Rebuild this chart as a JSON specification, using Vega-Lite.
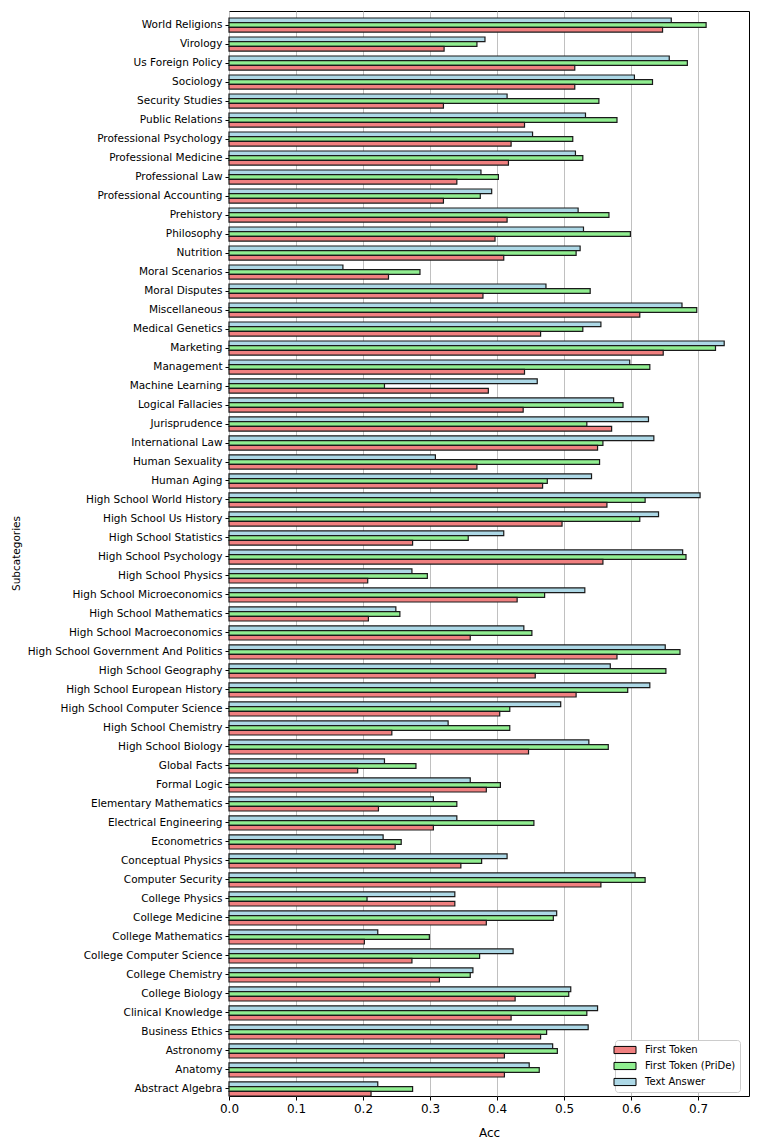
{
  "$schema": "https://vega.github.io/schema/vega-lite/v6.json",
  "width": 520,
  "height": 1085,
  "autosize": "none",
  "padding": {"left": 229, "top": 11, "right": 12, "bottom": 46},
  "background": "white",
  "config": {
    "font": "DejaVu Sans",
    "view": {"stroke": "black", "strokeWidth": 1},
    "axis": {"labelFont": "DejaVu Sans", "titleFont": "DejaVu Sans", "titleFontWeight": "normal", "labelColor": "black", "titleColor": "black", "tickColor": "black", "domainColor": "black", "tickSize": 4, "labelPadding": 3},
    "legend": {"labelFont": "DejaVu Sans"}
  },
  "data": {
    "values": [
      {"subject": "World Religions", "method": "Text Answer", "acc": 0.660},
      {"subject": "World Religions", "method": "First Token (PriDe)", "acc": 0.712},
      {"subject": "World Religions", "method": "First Token", "acc": 0.647},
      {"subject": "Virology", "method": "Text Answer", "acc": 0.382},
      {"subject": "Virology", "method": "First Token (PriDe)", "acc": 0.370},
      {"subject": "Virology", "method": "First Token", "acc": 0.321},
      {"subject": "Us Foreign Policy", "method": "Text Answer", "acc": 0.657},
      {"subject": "Us Foreign Policy", "method": "First Token (PriDe)", "acc": 0.684},
      {"subject": "Us Foreign Policy", "method": "First Token", "acc": 0.516},
      {"subject": "Sociology", "method": "Text Answer", "acc": 0.605},
      {"subject": "Sociology", "method": "First Token (PriDe)", "acc": 0.632},
      {"subject": "Sociology", "method": "First Token", "acc": 0.516},
      {"subject": "Security Studies", "method": "Text Answer", "acc": 0.415},
      {"subject": "Security Studies", "method": "First Token (PriDe)", "acc": 0.552},
      {"subject": "Security Studies", "method": "First Token", "acc": 0.320},
      {"subject": "Public Relations", "method": "Text Answer", "acc": 0.532},
      {"subject": "Public Relations", "method": "First Token (PriDe)", "acc": 0.579},
      {"subject": "Public Relations", "method": "First Token", "acc": 0.441},
      {"subject": "Professional Psychology", "method": "Text Answer", "acc": 0.453},
      {"subject": "Professional Psychology", "method": "First Token (PriDe)", "acc": 0.513},
      {"subject": "Professional Psychology", "method": "First Token", "acc": 0.421},
      {"subject": "Professional Medicine", "method": "Text Answer", "acc": 0.517},
      {"subject": "Professional Medicine", "method": "First Token (PriDe)", "acc": 0.528},
      {"subject": "Professional Medicine", "method": "First Token", "acc": 0.417},
      {"subject": "Professional Law", "method": "Text Answer", "acc": 0.376},
      {"subject": "Professional Law", "method": "First Token (PriDe)", "acc": 0.402},
      {"subject": "Professional Law", "method": "First Token", "acc": 0.340},
      {"subject": "Professional Accounting", "method": "Text Answer", "acc": 0.392},
      {"subject": "Professional Accounting", "method": "First Token (PriDe)", "acc": 0.375},
      {"subject": "Professional Accounting", "method": "First Token", "acc": 0.320},
      {"subject": "Prehistory", "method": "Text Answer", "acc": 0.521},
      {"subject": "Prehistory", "method": "First Token (PriDe)", "acc": 0.567},
      {"subject": "Prehistory", "method": "First Token", "acc": 0.415},
      {"subject": "Philosophy", "method": "Text Answer", "acc": 0.529},
      {"subject": "Philosophy", "method": "First Token (PriDe)", "acc": 0.599},
      {"subject": "Philosophy", "method": "First Token", "acc": 0.397},
      {"subject": "Nutrition", "method": "Text Answer", "acc": 0.524},
      {"subject": "Nutrition", "method": "First Token (PriDe)", "acc": 0.518},
      {"subject": "Nutrition", "method": "First Token", "acc": 0.410},
      {"subject": "Moral Scenarios", "method": "Text Answer", "acc": 0.170},
      {"subject": "Moral Scenarios", "method": "First Token (PriDe)", "acc": 0.285},
      {"subject": "Moral Scenarios", "method": "First Token", "acc": 0.238},
      {"subject": "Moral Disputes", "method": "Text Answer", "acc": 0.473},
      {"subject": "Moral Disputes", "method": "First Token (PriDe)", "acc": 0.539},
      {"subject": "Moral Disputes", "method": "First Token", "acc": 0.379},
      {"subject": "Miscellaneous", "method": "Text Answer", "acc": 0.676},
      {"subject": "Miscellaneous", "method": "First Token (PriDe)", "acc": 0.698},
      {"subject": "Miscellaneous", "method": "First Token", "acc": 0.613},
      {"subject": "Medical Genetics", "method": "Text Answer", "acc": 0.555},
      {"subject": "Medical Genetics", "method": "First Token (PriDe)", "acc": 0.528},
      {"subject": "Medical Genetics", "method": "First Token", "acc": 0.465},
      {"subject": "Marketing", "method": "Text Answer", "acc": 0.739},
      {"subject": "Marketing", "method": "First Token (PriDe)", "acc": 0.726},
      {"subject": "Marketing", "method": "First Token", "acc": 0.648},
      {"subject": "Management", "method": "Text Answer", "acc": 0.598},
      {"subject": "Management", "method": "First Token (PriDe)", "acc": 0.628},
      {"subject": "Management", "method": "First Token", "acc": 0.441},
      {"subject": "Machine Learning", "method": "Text Answer", "acc": 0.460},
      {"subject": "Machine Learning", "method": "First Token (PriDe)", "acc": 0.232},
      {"subject": "Machine Learning", "method": "First Token", "acc": 0.387},
      {"subject": "Logical Fallacies", "method": "Text Answer", "acc": 0.574},
      {"subject": "Logical Fallacies", "method": "First Token (PriDe)", "acc": 0.588},
      {"subject": "Logical Fallacies", "method": "First Token", "acc": 0.439},
      {"subject": "Jurisprudence", "method": "Text Answer", "acc": 0.626},
      {"subject": "Jurisprudence", "method": "First Token (PriDe)", "acc": 0.534},
      {"subject": "Jurisprudence", "method": "First Token", "acc": 0.571},
      {"subject": "International Law", "method": "Text Answer", "acc": 0.634},
      {"subject": "International Law", "method": "First Token (PriDe)", "acc": 0.558},
      {"subject": "International Law", "method": "First Token", "acc": 0.550},
      {"subject": "Human Sexuality", "method": "Text Answer", "acc": 0.308},
      {"subject": "Human Sexuality", "method": "First Token (PriDe)", "acc": 0.553},
      {"subject": "Human Sexuality", "method": "First Token", "acc": 0.370},
      {"subject": "Human Aging", "method": "Text Answer", "acc": 0.541},
      {"subject": "Human Aging", "method": "First Token (PriDe)", "acc": 0.475},
      {"subject": "Human Aging", "method": "First Token", "acc": 0.468},
      {"subject": "High School World History", "method": "Text Answer", "acc": 0.703},
      {"subject": "High School World History", "method": "First Token (PriDe)", "acc": 0.621},
      {"subject": "High School World History", "method": "First Token", "acc": 0.564},
      {"subject": "High School Us History", "method": "Text Answer", "acc": 0.641},
      {"subject": "High School Us History", "method": "First Token (PriDe)", "acc": 0.613},
      {"subject": "High School Us History", "method": "First Token", "acc": 0.497},
      {"subject": "High School Statistics", "method": "Text Answer", "acc": 0.410},
      {"subject": "High School Statistics", "method": "First Token (PriDe)", "acc": 0.357},
      {"subject": "High School Statistics", "method": "First Token", "acc": 0.274},
      {"subject": "High School Psychology", "method": "Text Answer", "acc": 0.677},
      {"subject": "High School Psychology", "method": "First Token (PriDe)", "acc": 0.682},
      {"subject": "High School Psychology", "method": "First Token", "acc": 0.558},
      {"subject": "High School Physics", "method": "Text Answer", "acc": 0.273},
      {"subject": "High School Physics", "method": "First Token (PriDe)", "acc": 0.296},
      {"subject": "High School Physics", "method": "First Token", "acc": 0.207},
      {"subject": "High School Microeconomics", "method": "Text Answer", "acc": 0.531},
      {"subject": "High School Microeconomics", "method": "First Token (PriDe)", "acc": 0.471},
      {"subject": "High School Microeconomics", "method": "First Token", "acc": 0.430},
      {"subject": "High School Mathematics", "method": "Text Answer", "acc": 0.249},
      {"subject": "High School Mathematics", "method": "First Token (PriDe)", "acc": 0.255},
      {"subject": "High School Mathematics", "method": "First Token", "acc": 0.208},
      {"subject": "High School Macroeconomics", "method": "Text Answer", "acc": 0.440},
      {"subject": "High School Macroeconomics", "method": "First Token (PriDe)", "acc": 0.452},
      {"subject": "High School Macroeconomics", "method": "First Token", "acc": 0.360},
      {"subject": "High School Government And Politics", "method": "Text Answer", "acc": 0.651},
      {"subject": "High School Government And Politics", "method": "First Token (PriDe)", "acc": 0.673},
      {"subject": "High School Government And Politics", "method": "First Token", "acc": 0.579},
      {"subject": "High School Geography", "method": "Text Answer", "acc": 0.569},
      {"subject": "High School Geography", "method": "First Token (PriDe)", "acc": 0.652},
      {"subject": "High School Geography", "method": "First Token", "acc": 0.457},
      {"subject": "High School European History", "method": "Text Answer", "acc": 0.628},
      {"subject": "High School European History", "method": "First Token (PriDe)", "acc": 0.595},
      {"subject": "High School European History", "method": "First Token", "acc": 0.518},
      {"subject": "High School Computer Science", "method": "Text Answer", "acc": 0.495},
      {"subject": "High School Computer Science", "method": "First Token (PriDe)", "acc": 0.419},
      {"subject": "High School Computer Science", "method": "First Token", "acc": 0.404},
      {"subject": "High School Chemistry", "method": "Text Answer", "acc": 0.327},
      {"subject": "High School Chemistry", "method": "First Token (PriDe)", "acc": 0.419},
      {"subject": "High School Chemistry", "method": "First Token", "acc": 0.243},
      {"subject": "High School Biology", "method": "Text Answer", "acc": 0.537},
      {"subject": "High School Biology", "method": "First Token (PriDe)", "acc": 0.566},
      {"subject": "High School Biology", "method": "First Token", "acc": 0.447},
      {"subject": "Global Facts", "method": "Text Answer", "acc": 0.232},
      {"subject": "Global Facts", "method": "First Token (PriDe)", "acc": 0.279},
      {"subject": "Global Facts", "method": "First Token", "acc": 0.192},
      {"subject": "Formal Logic", "method": "Text Answer", "acc": 0.360},
      {"subject": "Formal Logic", "method": "First Token (PriDe)", "acc": 0.405},
      {"subject": "Formal Logic", "method": "First Token", "acc": 0.384},
      {"subject": "Elementary Mathematics", "method": "Text Answer", "acc": 0.305},
      {"subject": "Elementary Mathematics", "method": "First Token (PriDe)", "acc": 0.340},
      {"subject": "Elementary Mathematics", "method": "First Token", "acc": 0.223},
      {"subject": "Electrical Engineering", "method": "Text Answer", "acc": 0.340},
      {"subject": "Electrical Engineering", "method": "First Token (PriDe)", "acc": 0.455},
      {"subject": "Electrical Engineering", "method": "First Token", "acc": 0.305},
      {"subject": "Econometrics", "method": "Text Answer", "acc": 0.230},
      {"subject": "Econometrics", "method": "First Token (PriDe)", "acc": 0.257},
      {"subject": "Econometrics", "method": "First Token", "acc": 0.248},
      {"subject": "Conceptual Physics", "method": "Text Answer", "acc": 0.415},
      {"subject": "Conceptual Physics", "method": "First Token (PriDe)", "acc": 0.377},
      {"subject": "Conceptual Physics", "method": "First Token", "acc": 0.346},
      {"subject": "Computer Security", "method": "Text Answer", "acc": 0.606},
      {"subject": "Computer Security", "method": "First Token (PriDe)", "acc": 0.621},
      {"subject": "Computer Security", "method": "First Token", "acc": 0.555},
      {"subject": "College Physics", "method": "Text Answer", "acc": 0.337},
      {"subject": "College Physics", "method": "First Token (PriDe)", "acc": 0.206},
      {"subject": "College Physics", "method": "First Token", "acc": 0.337},
      {"subject": "College Medicine", "method": "Text Answer", "acc": 0.489},
      {"subject": "College Medicine", "method": "First Token (PriDe)", "acc": 0.484},
      {"subject": "College Medicine", "method": "First Token", "acc": 0.384},
      {"subject": "College Mathematics", "method": "Text Answer", "acc": 0.222},
      {"subject": "College Mathematics", "method": "First Token (PriDe)", "acc": 0.299},
      {"subject": "College Mathematics", "method": "First Token", "acc": 0.202},
      {"subject": "College Computer Science", "method": "Text Answer", "acc": 0.424},
      {"subject": "College Computer Science", "method": "First Token (PriDe)", "acc": 0.374},
      {"subject": "College Computer Science", "method": "First Token", "acc": 0.273},
      {"subject": "College Chemistry", "method": "Text Answer", "acc": 0.364},
      {"subject": "College Chemistry", "method": "First Token (PriDe)", "acc": 0.360},
      {"subject": "College Chemistry", "method": "First Token", "acc": 0.314},
      {"subject": "College Biology", "method": "Text Answer", "acc": 0.510},
      {"subject": "College Biology", "method": "First Token (PriDe)", "acc": 0.507},
      {"subject": "College Biology", "method": "First Token", "acc": 0.427},
      {"subject": "Clinical Knowledge", "method": "Text Answer", "acc": 0.550},
      {"subject": "Clinical Knowledge", "method": "First Token (PriDe)", "acc": 0.534},
      {"subject": "Clinical Knowledge", "method": "First Token", "acc": 0.421},
      {"subject": "Business Ethics", "method": "Text Answer", "acc": 0.536},
      {"subject": "Business Ethics", "method": "First Token (PriDe)", "acc": 0.474},
      {"subject": "Business Ethics", "method": "First Token", "acc": 0.465},
      {"subject": "Astronomy", "method": "Text Answer", "acc": 0.483},
      {"subject": "Astronomy", "method": "First Token (PriDe)", "acc": 0.490},
      {"subject": "Astronomy", "method": "First Token", "acc": 0.411},
      {"subject": "Anatomy", "method": "Text Answer", "acc": 0.448},
      {"subject": "Anatomy", "method": "First Token (PriDe)", "acc": 0.463},
      {"subject": "Anatomy", "method": "First Token", "acc": 0.411},
      {"subject": "Abstract Algebra", "method": "Text Answer", "acc": 0.222},
      {"subject": "Abstract Algebra", "method": "First Token (PriDe)", "acc": 0.274},
      {"subject": "Abstract Algebra", "method": "First Token", "acc": 0.212}
    ]
  },
  "mark": {"type": "bar", "stroke": "#1a1a1a", "strokeWidth": 1.2},
  "encoding": {
    "y": {
      "field": "subject",
      "type": "nominal",
      "sort": "descending",
      "scale": {"paddingInner": 0.26, "paddingOuter": 0.184, "align": 1},
      "axis": {"title": "Subcategories", "titleFontSize": 10.5, "labelFontSize": 10.5, "labelLimit": 0, "titleX": -213, "titleY": 542, "titleAngle": -90, "titleAlign": "center", "titleBaseline": "middle", "grid": false, "domain": false}
    },
    "yOffset": {
      "field": "method",
      "type": "nominal",
      "sort": ["Text Answer", "First Token (PriDe)", "First Token"],
      "scale": {"paddingInner": 0, "paddingOuter": 0}
    },
    "x": {
      "field": "acc",
      "type": "quantitative",
      "scale": {"domain": [0, 0.776], "nice": false, "zero": true},
      "axis": {"title": "Acc", "titleFontSize": 12, "labelFontSize": 12, "labelFlush": false, "values": [0, 0.1, 0.2, 0.3, 0.4, 0.5, 0.6, 0.7], "format": ".1f", "grid": true, "gridColor": "#c0c0c0", "gridWidth": 1, "titleY": 36, "titleBaseline": "middle", "domain": false, "labelPadding": 3}
    },
    "color": {
      "field": "method",
      "type": "nominal",
      "scale": {"domain": ["First Token", "First Token (PriDe)", "Text Answer"], "range": ["#F08080", "#90EE90", "#ADD8E6"]},
      "legend": {
        "title": null,
        "orient": "none",
        "legendX": 386,
        "legendY": 1029,
        "labelFontSize": 10,
        "symbolType": "M-2,-0.65H2V0.65H-2Z",
        "symbolSize": 121,
        "symbolStrokeColor": "black",
        "symbolStrokeWidth": 1,
        "symbolOpacity": 1,
        "labelOffset": 14,
        "rowPadding": 4,
        "padding": 4,
        "fillColor": "white",
        "strokeColor": "#cccccc",
        "cornerRadius": 3
      }
    }
  }
}
